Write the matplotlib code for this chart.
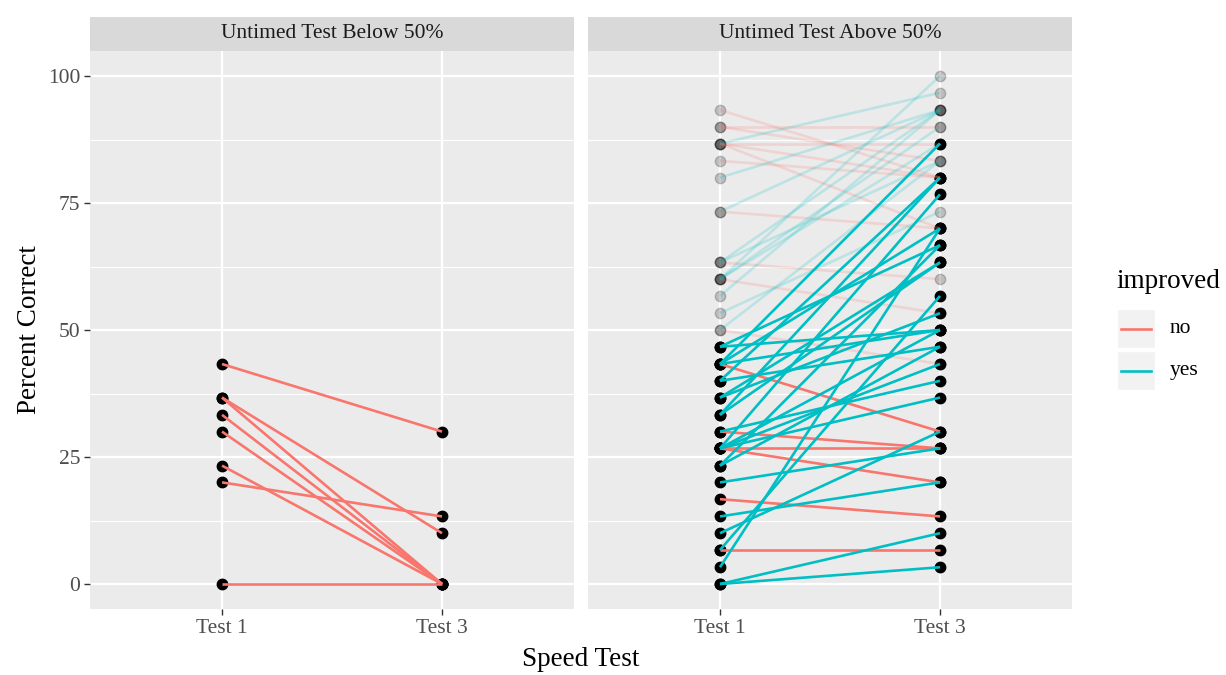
import matplotlib.pyplot as plt
from matplotlib.patches import Rectangle

# speed test scores (percent correct), one pair per student
below_t1 = [43.3, 36.7, 36.7, 33.3, 30.0, 23.3, 20.0, 0.0]
below_t3 = [30.0, 10.0, 0.0, 0.0, 0.0, 0.0, 13.3, 0.0]

# above 50% on the untimed test, test 1 under 50%
above_no_t1 = [43.3, 30.0, 26.7, 26.7, 16.7, 6.7]
above_no_t3 = [30.0, 26.7, 26.7, 20.0, 13.3, 6.7]
above_yes_t1 = [0.0, 0.0, 3.3, 6.7, 10.0, 13.3, 20.0, 23.3, 23.3, 26.7, 26.7,
                26.7, 26.7, 30.0, 33.3, 33.3, 36.7, 36.7, 40.0, 40.0, 43.3,
                43.3, 43.3, 46.7, 46.7]
above_yes_t3 = [3.3, 10.0, 70.0, 56.7, 30.0, 20.0, 26.7, 66.7, 46.7, 36.7, 50.0,
                76.7, 43.3, 40.0, 80.0, 63.3, 53.3, 63.3, 80.0, 46.7, 86.7,
                50.0, 70.0, 50.0, 66.7]

# above 50% on the untimed test, test 1 at 50% or more (drawn faded)
faded_no_t1 = [93.3, 90.0, 90.0, 86.7, 86.7, 86.7, 83.3, 73.3, 63.3, 60.0, 50.0]
faded_no_t3 = [80.0, 90.0, 83.3, 86.7, 80.0, 70.0, 80.0, 70.0, 60.0, 53.3, 43.3]
faded_yes_t1 = [50.0, 53.3, 56.7, 60.0, 60.0, 60.0, 63.3, 63.3, 73.3, 80.0, 86.7]
faded_yes_t3 = [83.3, 73.3, 93.3, 100.0, 90.0, 86.7, 93.3, 83.3, 93.3, 93.3, 96.7]

facets = ['Untimed Test Below 50%', 'Untimed Test Above 50%']
x_labels = ['Test 1', 'Test 3']
y_ticks = [0, 25, 50, 75, 100]

RED = '#F8766D'
TEAL = '#00BFC4'
SERIF = 'Liberation Serif'

W, H = 1226, 675
fig = plt.figure(figsize=(W / 100, H / 100), dpi=100)
fig.patch.set_facecolor('white')


def px_rect(x0, y0, x1, y1):
    return [x0 / W, 1 - y1 / H, (x1 - x0) / W, (y1 - y0) / H]


def draw_pairs(ax, t1, t3, color, alpha=1.0):
    for a, b in zip(t1, t3):
        ax.plot([1, 2], [a, b], color=color, lw=1.9, alpha=alpha,
                solid_capstyle='butt', zorder=4)


def draw_points(ax, t1, t3, alpha=1.0):
    xs = [1] * len(t1) + [2] * len(t3)
    ys = list(t1) + list(t3)
    ax.plot(xs, ys, 'o', color='black', ms=7.5, mew=1.0, mec='black',
            alpha=alpha, zorder=3)


panels = [(90, 574), (588, 1072)]
axes = []
for (x0, x1), title in zip(panels, facets):
    ax = fig.add_axes(px_rect(x0, 50.6, x1, 609.4))
    ax.set_facecolor('#EBEBEB')
    ax.set_xlim(0.4, 2.6)
    ax.set_ylim(-5, 105)
    for y in [12.5, 37.5, 62.5, 87.5]:
        ax.axhline(y, color='white', lw=0.8, zorder=1)
    for y in y_ticks:
        ax.axhline(y, color='white', lw=1.6, zorder=1)
    for x in [1, 2]:
        ax.axvline(x, color='white', lw=1.6, zorder=1)
    for s in ax.spines.values():
        s.set_visible(False)
    ax.set_xticks([1, 2])
    ax.set_xticklabels(x_labels)
    ax.set_yticks(y_ticks)
    ax.tick_params(length=4, width=1, color='#333333', labelcolor='#4D4D4D',
                   labelsize=15.5, pad=3)
    for lab in ax.get_xticklabels() + ax.get_yticklabels():
        lab.set_fontfamily(SERIF)
    # facet strip
    sax = fig.add_axes(px_rect(x0, 17, x1, 50.6))
    sax.set_facecolor('#D9D9D9')
    sax.set_xticks([])
    sax.set_yticks([])
    for s in sax.spines.values():
        s.set_visible(False)
    sax.text(0.5, 0.5, title, ha='center', va='center', fontsize=15.5,
             family=SERIF, color='#1A1A1A', transform=sax.transAxes)
    axes.append(ax)

axes[1].set_yticklabels([])
axes[1].tick_params(axis='y', length=0)

# left facet
draw_points(axes[0], below_t1, below_t3)
draw_pairs(axes[0], below_t1, below_t3, RED)

# right facet
ax = axes[1]
draw_pairs(ax, faded_no_t1, faded_no_t3, RED, alpha=0.2)
draw_pairs(ax, faded_yes_t1, faded_yes_t3, TEAL, alpha=0.2)
draw_points(ax, faded_no_t1 + faded_yes_t1, faded_no_t3 + faded_yes_t3,
            alpha=0.2)
draw_points(ax, above_no_t1 + above_yes_t1, above_no_t3 + above_yes_t3)
draw_pairs(ax, above_no_t1, above_no_t3, RED)
draw_pairs(ax, above_yes_t1, above_yes_t3, TEAL)

# axis titles
fig.text(581 / W, 1 - 660 / H, 'Speed Test', ha='center', va='center',
         fontsize=19.5, family=SERIF, color='black')
fig.text(30 / W, 1 - 330 / H, 'Percent Correct', ha='center', va='center',
         rotation=90, fontsize=19.5, family=SERIF, color='black')

# legend
lax = fig.add_axes([0, 0, 1, 1])
lax.set_xlim(0, W)
lax.set_ylim(H, 0)
lax.axis('off')
lax.text(1116, 282, 'improved', ha='left', va='center', fontsize=19.5,
         family=SERIF, color='black')
for i, (lab, col) in enumerate([('no', RED), ('yes', TEAL)]):
    y0 = 309 + i * 42
    lax.add_patch(Rectangle((1117, y0), 38, 39, facecolor='#F2F2F2',
                            edgecolor='white', lw=1))
    lax.plot([1121, 1151], [y0 + 19.5, y0 + 19.5], color=col, lw=1.9)
    lax.text(1170, y0 + 19.5, lab, ha='left', va='center', fontsize=15.5,
             family=SERIF, color='black')

fig.savefig('out.png', dpi=100)
